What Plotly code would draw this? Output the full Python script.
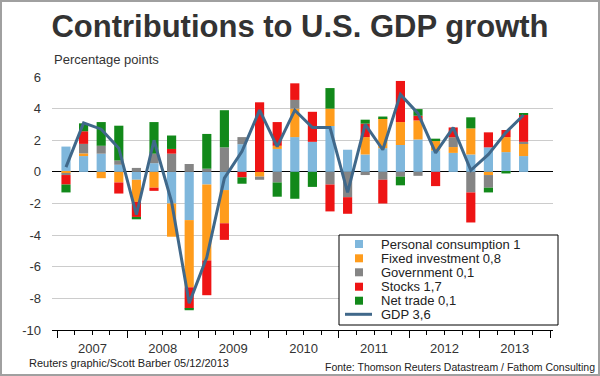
import plotly.graph_objects as go

quarters = [f"{y} Q{q}" for y in range(2007, 2014) for q in range(1, 5)][:27]
years = ["2007", "2008", "2009", "2010", "2011", "2012", "2013"]
y_ticks = [-10, -8, -6, -4, -2, 0, 2, 4, 6]
y_tick_text = ["-10", "-8", "-6", "-4", "-2", "0", "2", "4", "6"]

consumption = [1.6, 1.0, 1.15, 0.45, -0.5, 0.55, -2.0, -3.05, -0.8, -1.15, 1.75, 0.0, 1.45, 2.2,
               1.9, 2.9, 1.4, 1.1, 1.5, 1.7, 2.05, 1.35, 1.2, 1.1, 1.55, 1.25, 1.0]
fixed_investment = [-0.1, 0.17, -0.4, -0.67, -1.4, -1.0, -2.1, -4.25, -4.8, -2.1, 0.0, -0.3, 0.2, 1.8,
                    0.0, 1.1, 0.0, 1.1, 1.9, 1.45, 1.2, 0.6, 0.37, 1.65, -0.2, 0.95, 0.8]
government = [-0.1, 0.6, 0.5, 0.27, 0.25, 0.6, 1.15, 0.5, 0.2, 1.55, 0.45, -0.2, -0.67, 0.55,
              0.0, -0.8, -1.6, -0.2, -0.5, -0.3, -0.25, 0.0, 0.62, -1.3, -0.8, 0.0, 0.1]
stocks = [-0.6, 0.8, 0.0, -0.7, -0.95, -0.2, 0.3, -1.35, -2.2, -1.05, -0.35, 4.4, 1.5, 1.05,
          1.9, -1.7, -1.05, 0.85, -1.5, 2.6, 0.3, -0.9, 0.62, -1.9, 0.95, 0.45, 1.7]
net_trade = [-0.5, 0.5, 1.5, 2.2, -0.15, 2.0, 0.85, -0.1, 2.2, 2.35, -0.4, 0.0, -0.9, -1.7,
             -0.95, 1.3, 0.0, 0.25, 0.1, -0.55, 0.42, 0.15, 0.0, 0.7, -0.3, -0.1, 0.1]
gdp = [0.3, 3.1, 2.7, 1.5, -2.7, 2.0, -1.9, -8.3, -5.4, -0.4, 1.3, 3.9, 1.6, 3.9,
       2.8, 2.8, -1.3, 3.0, 1.4, 4.9, 3.7, 1.2, 2.8, 0.1, 1.1, 2.5, 3.6]

series_names = ["Personal consumption 1", "Fixed investment 0,8", "Government 0,1",
                "Stocks 1,7", "Net trade 0,1"]
series_values = [consumption, fixed_investment, government, stocks, net_trade]
series_colors = ["#7fb7dc", "#ff9c1c", "#858585", "#ee1414", "#12891a"]
gdp_name = "GDP 3,6"
gdp_color = "#40688a"

xi = list(range(len(quarters)))
FONT = "Liberation Sans, Arial, sans-serif"

fig = go.Figure()
for name, vals, col in zip(series_names, series_values, series_colors):
    fig.add_trace(go.Bar(x=xi, y=vals, name=name, marker_color=col, marker_line_width=0,
                         width=0.52, hovertext=quarters))
fig.add_trace(go.Scatter(x=xi, y=gdp, name=gdp_name, mode="lines",
                         line=dict(color=gdp_color, width=3), hovertext=quarters))

L, R, T, B = 52, 553, 77, 330
W, H = 600, 376
x0r, x1r = -0.795, 27.67


def px_x(p):
    return (p - L) / (R - L)


def px_y(p):
    return (B - p) / (B - T)


year_centers = [1.5 + 4 * k for k in range(len(years))]
year_bounds = [-0.5 + 4 * k for k in range(8)]

fig.update_layout(
    width=W, height=H,
    margin=dict(l=L, r=W - R, t=T, b=H - B, autoexpand=False),
    paper_bgcolor="white", plot_bgcolor="white",
    barmode="relative",
    font=dict(family=FONT, color="#333333", size=13),
    title=dict(text="Contributions to U.S. GDP growth", x=0.5, xanchor="center",
               y=1 - 26 / H, yanchor="middle",
               font=dict(family=FONT, size=31, color="#333333", weight="bold")),
    showlegend=False,
    xaxis=dict(range=[x0r, x1r], tickmode="array", tickvals=year_centers, ticktext=years,
               ticks="", showgrid=False, zeroline=False, showline=True, linecolor="black",
               linewidth=1, ticklabelstandoff=6, automargin=False,
               tickfont=dict(family=FONT, size=13, color="#333333"),
               minor=dict(ticks="outside", tick0=-0.5, dtick=1, ticklen=4,
                          tickcolor="black", showgrid=False)),
    xaxis2=dict(range=[x0r, x1r], overlaying="x", anchor="y", side="bottom",
                tickmode="array", tickvals=year_bounds, ticktext=[""] * len(year_bounds),
                ticks="outside", ticklen=7, tickcolor="black", showgrid=False,
                zeroline=False, showline=False, automargin=False),
    yaxis=dict(range=[-10, 6], tickmode="array", tickvals=y_ticks, ticktext=y_tick_text,
               ticks="", showgrid=True, gridcolor="#cccccc", gridwidth=1,
               zeroline=True, zerolinecolor="black", zerolinewidth=1.3,
               showline=False, ticklabelstandoff=10, automargin=False,
               tickfont=dict(family=FONT, size=13, color="#333333")),
)

# invisible trace to activate the overlay axis
fig.add_trace(go.Scatter(x=[x0r], y=[-20], xaxis="x2", mode="markers",
                         marker=dict(opacity=0), showlegend=False, hoverinfo="skip"))

fig.add_annotation(text="Percentage points", xref="paper", yref="paper",
                   x=px_x(52), y=px_y(60), xanchor="left", yanchor="middle",
                   showarrow=False, font=dict(family=FONT, size=13, color="#333333"))
fig.add_annotation(text="Reuters graphic/Scott Barber 05/12/2013", xref="paper", yref="paper",
                   x=px_x(27), y=px_y(363), xanchor="left", yanchor="middle",
                   showarrow=False, font=dict(family=FONT, size=11, color="#222222"))
fig.add_annotation(text="Fonte: Thomson Reuters Datastream / Fathom Consulting",
                   xref="paper", yref="paper",
                   x=px_x(597), y=px_y(367), xanchor="right", yanchor="middle",
                   showarrow=False, font=dict(family=FONT, size=10.5, color="#222222"))

# legend box (drawn to match the original's compact legend)
fig.add_shape(type="rect", xref="paper", yref="paper",
              x0=px_x(339), x1=px_x(558), y0=px_y(325), y1=px_y(235),
              line=dict(color="black", width=1), fillcolor="white", layer="above")
row_y = [244, 258.3, 272.3, 286.7, 300.7, 314.3]
for k, (name, col) in enumerate(zip(series_names, series_colors)):
    cy = row_y[k]
    fig.add_shape(type="rect", xref="paper", yref="paper",
                  x0=px_x(355), x1=px_x(363), y0=px_y(cy + 4), y1=px_y(cy - 4),
                  line=dict(width=0), fillcolor=col, layer="above")
    fig.add_annotation(text=name, xref="paper", yref="paper", x=px_x(379), y=px_y(cy),
                       xanchor="left", yanchor="middle", showarrow=False,
                       font=dict(family=FONT, size=13, color="#222222"))
cy = row_y[5]
fig.add_shape(type="line", xref="paper", yref="paper",
              x0=px_x(345), x1=px_x(372), y0=px_y(cy), y1=px_y(cy),
              line=dict(color=gdp_color, width=3), layer="above")
fig.add_annotation(text=gdp_name, xref="paper", yref="paper", x=px_x(379), y=px_y(cy),
                   xanchor="left", yanchor="middle", showarrow=False,
                   font=dict(family=FONT, size=13, color="#222222"))

fig.add_shape(type="rect", xref="paper", yref="paper",
              x0=px_x(1), x1=px_x(599), y0=px_y(375), y1=px_y(1),
              line=dict(color="#a0a0a0", width=2), fillcolor="rgba(0,0,0,0)", layer="above")

fig.write_html("out.html", config={"displayModeBar": False},
               post_script="document.body.style.margin='0';document.body.style.overflow='hidden';")
